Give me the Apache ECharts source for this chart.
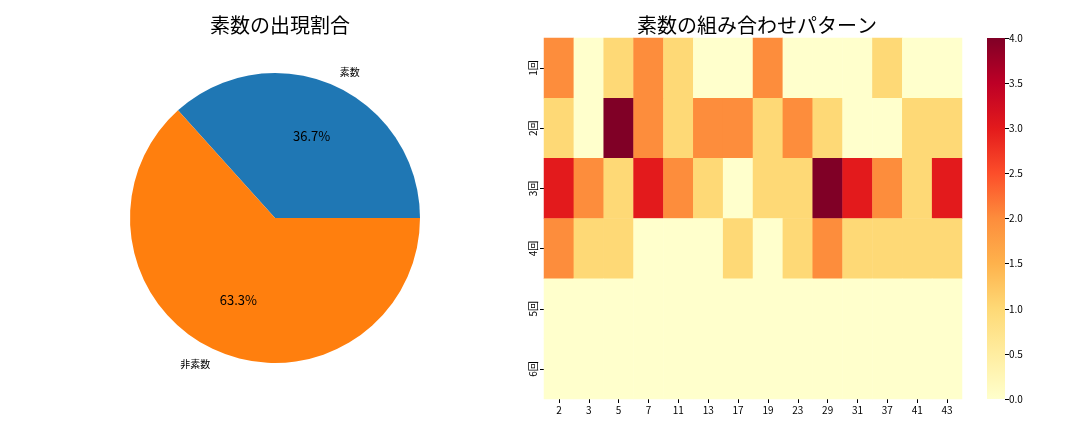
<!DOCTYPE html>
<html><head><meta charset="utf-8">
<script src="https://cdn.jsdelivr.net/npm/echarts@6/dist/echarts.min.js"></script>
<style>html,body{margin:0;padding:0;background:#fff}#c{width:1080px;height:432px}</style>
</head><body><div id="c"></div>
<script>
const pieNames = ['素数', '非素数'];
const pieValues = [11, 19];
const primes = ['2','3','5','7','11','13','17','19','23','29','31','37','41','43'];
const rounds = ['1回','2回','3回','4回','5回','6回'];
const row1 = [2,0,1,2,1,0,0,2,0,0,0,1,0,0];
const row2 = [1,0,4,2,1,2,2,1,2,1,0,0,1,1];
const row3 = [3,2,1,3,2,1,0,1,1,4,3,2,1,3];
const row4 = [2,1,1,0,0,0,1,0,1,2,1,1,1,1];
const row5 = [0,0,0,0,0,0,0,0,0,0,0,0,0,0];
const row6 = [0,0,0,0,0,0,0,0,0,0,0,0,0,0];
const colorbarMax = 4;

const rows = [row1,row2,row3,row4,row5,row6];
const heatData = [];
rows.forEach((r, ri) => r.forEach((v, ci) => heatData.push([ci, ri, v])));
const ylorrd = ['#ffffcc','#ffeda0','#fed976','#feb24c','#fd8d3c','#fc4e2a','#e31a1c','#bd0026','#800026'];
const FONT = 'Noto Sans CJK JP';
const total = pieValues.reduce((a,b)=>a+b,0);
const pieColors = ['#1f77b4', '#ff7f0e'];

const chart = echarts.init(document.getElementById('c'));
chart.setOption({
  animation: false,
  textStyle: {fontFamily: FONT},
  title: [
    {text: '素数の出現割合', left: 275, top: 10, textAlign: 'center',
     textStyle: {fontFamily: FONT, fontSize: 20, fontWeight: 'normal', color: '#000'}},
    {text: '素数の組み合わせパターン', left: 752, top: 10, textAlign: 'center',
     textStyle: {fontFamily: FONT, fontSize: 20, fontWeight: 'normal', color: '#000'}}
  ],
  grid: [
    {left: 544, right: 118, top: 38, bottom: 33},
    {left: 987, width: 18, top: 38, bottom: 33}
  ],
  xAxis: [
    {type: 'category', data: primes, gridIndex: 0,
     axisLine: {show: false}, splitLine: {show: false},
     axisTick: {show: true, alignWithLabel: true, length: 4, lineStyle: {color: '#000'}},
     axisLabel: {fontSize: 10, color: '#000', margin: 6, fontFamily: FONT}},
    {type: 'category', data: ['cb'], gridIndex: 1, show: false}
  ],
  yAxis: [
    {type: 'category', data: rounds, gridIndex: 0, inverse: true,
     axisLine: {show: false}, splitLine: {show: false},
     axisTick: {show: true, alignWithLabel: true, length: 4, lineStyle: {color: '#000'}},
     axisLabel: {fontSize: 10, color: '#000', rotate: 90, margin: 6, fontFamily: FONT}},
    {type: 'value', gridIndex: 1, min: 0, max: colorbarMax, interval: 0.5, position: 'right',
     axisLine: {show: false}, splitLine: {show: false},
     axisTick: {show: true, length: 4, lineStyle: {color: '#000'}},
     axisLabel: {fontSize: 10, color: '#000', margin: 4, fontFamily: FONT,
       formatter: v => v.toFixed(1)}}
  ],
  visualMap: {
    show: false, type: 'continuous', min: 0, max: colorbarMax, seriesIndex: 2,
    inRange: {color: ylorrd}
  },
  series: [
    {
      type: 'pie', center: [275, 218], radius: 145, startAngle: 0, clockwise: false,
      avoidLabelOverlap: false, silent: true,
      data: pieNames.map((n, i) => ({name: n, value: pieValues[i], itemStyle: {color: pieColors[i]}})),
      label: {show: true, position: 'outside', fontSize: 10, color: '#000', fontFamily: FONT,
              distanceToLabelLine: 0, formatter: '{b}'},
      labelLine: {show: false, length: 14.5, length2: 0}
    },
    {
      type: 'pie', center: [275, 218], radius: 174, startAngle: 0, clockwise: false,
      avoidLabelOverlap: false, silent: true, z: 3,
      data: pieNames.map((n, i) => ({name: n, value: pieValues[i]})),
      itemStyle: {color: 'rgba(0,0,0,0)'},
      label: {show: true, position: 'inside', fontSize: 13, color: '#000', fontFamily: FONT,
              formatter: p => (p.value / total * 100).toFixed(1) + '%'},
      labelLine: {show: false}
    },
    {
      type: 'heatmap', xAxisIndex: 0, yAxisIndex: 0, data: heatData, silent: true,
      itemStyle: {borderWidth: 0}
    },
    {
      type: 'bar', xAxisIndex: 1, yAxisIndex: 1, data: [colorbarMax], barWidth: '100%', silent: true,
      itemStyle: {color: new echarts.graphic.LinearGradient(0, 1, 0, 0,
        ylorrd.map((c, i) => ({offset: i / (ylorrd.length - 1), color: c})))}
    }
  ]
});
</script></body></html>
